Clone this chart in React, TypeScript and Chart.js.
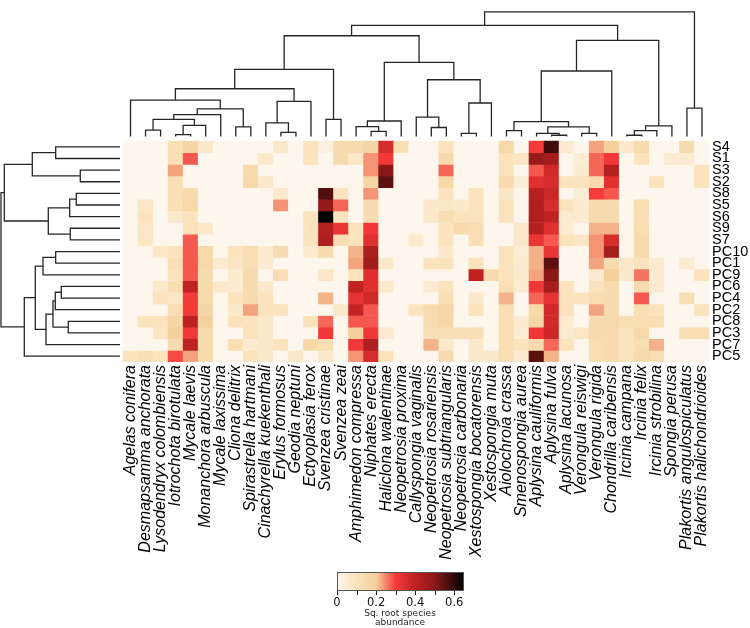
import { useEffect, useRef } from "react";
import { Chart, registerables } from "chart.js";

Chart.register(...registerables);

// ---------- data ----------
const species = [
  "Agelas conifera", "Desmapsamma anchorata", "Lysodendryx colombiensis", "Iotrochota birotulata",
  "Mycale laevis", "Monanchora arbuscula", "Mycale laxissima", "Cliona delitrix",
  "Spirastrella hartmani", "Cinachyrella kuekenthali", "Erylus formosus", "Geodia neptuni",
  "Ectyoplasia ferox", "Svenzea cristinae", "Svenzea zeai", "Amphimedon compressa",
  "Niphates erecta", "Haliclona walentinae", "Neopetrosia proxima", "Callyspongia vaginalis",
  "Neopetrosia rosariensis", "Neopetrosia subtriangularis", "Neopetrosia carbonaria",
  "Xestospongia bocatorensis", "Xestospongia muta", "Aiolochroia crassa", "Smenospongia aurea",
  "Aplysina cauliformis", "Aplysina fulva", "Aplysina lacunosa", "Verongula reiswigi",
  "Verongula rigida", "Chondrilla caribensis", "Ircinia campana", "Ircinia felix",
  "Ircinia strobilina", "Spongia perusa", "Plakortis angulospiculatus", "Plakortis halichondrioides",
];

const samples = ["S4", "S1", "S3", "S2", "S8", "S5", "S6", "S9", "S7", "PC10", "PC1", "PC9", "PC6", "PC4", "PC2", "PC8", "PC3", "PC7", "PC5"];

// square-root abundance, one array per sample (columns in species order)
const S4 = [0,0,0,.12,.17,.07,0,0,0,0,.07,0,.10,.03,.15,.15,.17,.36,.12,0,0,.10,0,0,0,.16,0,.30,.58,.06,0,.23,.20,.07,.14,0,0,.14,0];
const S1 = [0,0,0,.12,.28,0,0,0,0,.07,0,0,.10,0,.15,.08,.24,.31,0,0,0,.15,0,0,0,.10,.08,.47,.45,0,.05,.27,.31,0,.10,0,.06,.06,0];
const S3 = [0,0,0,.23,0,0,0,0,.15,0,0,0,0,0,0,0,.24,.50,0,0,0,.27,0,0,0,.10,0,.28,.37,0,.06,.27,.42,0,0,0,0,0,.10];
const S2 = [0,0,0,.12,0,0,0,0,.16,.07,0,0,0,0,0,0,.17,.55,0,0,0,.16,0,0,0,.15,.05,.34,.36,.10,.10,.15,.34,0,0,.10,0,0,.10];
const S8 = [0,0,0,.12,.15,0,0,0,0,0,.07,0,0,.56,.10,0,.24,0,0,0,0,.10,0,.10,0,.08,0,.42,.38,0,.05,.30,.28,0,0,0,0,0,0];
const S5 = [0,.08,0,.12,.16,0,0,0,0,0,.24,0,0,.48,.27,0,.14,0,0,0,.07,.08,.07,.10,0,.10,0,.43,.36,.10,.06,.14,.15,0,.13,0,0,0,0];
const S6 = [0,.10,0,.07,.10,0,0,0,0,0,0,0,.10,.65,.10,0,.14,0,0,0,.07,.13,.10,.10,0,.10,0,.43,.40,.06,.06,.15,.15,0,.12,0,0,0,0];
const S9 = [0,.08,0,0,.11,.07,0,0,0,0,0,0,.10,.42,.32,.10,.31,0,0,0,0,.10,.15,.13,0,0,.07,.42,.34,.06,0,.22,.22,0,.13,0,0,0,0];
const S7 = [0,.08,0,0,.28,0,0,0,0,0,0,0,.10,.43,.13,.10,.34,0,0,.07,0,.10,0,.13,0,0,.07,.32,.28,.10,.08,.24,.36,0,.14,0,0,0,0];
const PC10 = [0,0,.07,.10,.28,.16,0,.10,.13,.06,.14,0,.06,.15,0,.22,.44,0,0,0,0,.07,0,0,0,.10,.05,.22,.32,0,0,.24,.45,0,.14,0,0,0,0];
const PC1 = [0,0,0,.12,.28,.16,.06,.09,.13,.06,0,0,0,0,0,.23,.46,.07,0,0,.10,.10,0,.10,0,.10,.06,.22,.55,0,0,.23,.14,.07,.10,.06,0,.06,0];
const PC9 = [0,0,0,.10,.28,.15,0,.06,.15,0,.13,0,0,.08,0,.10,.34,0,0,0,0,0,0,.40,.15,.10,.06,.23,.50,0,0,.06,.20,.07,.26,.06,0,0,.10];
const PC6 = [0,0,.07,.13,.40,.15,.07,.06,.15,.07,0,0,0,0,0,.40,.34,.07,0,0,.06,.10,0,0,0,.12,.06,.31,.45,.10,0,.10,.15,0,.15,.06,0,0,0];
const PC4 = [0,0,.10,.08,.30,.15,0,.10,.15,.10,0,0,0,.22,0,.33,.37,0,0,0,0,.12,0,.07,0,.22,0,.27,.33,.10,.10,.13,.14,0,.28,0,0,.13,0];
const PC2 = [0,0,0,.13,.30,.17,0,.07,.23,.10,.10,0,0,0,.07,.39,.28,0,0,.10,.14,.17,0,.10,0,.13,0,.16,.37,.10,0,.23,.15,0,.13,.10,0,0,.10];
const PC8 = [0,.10,.10,.17,.40,.20,0,.10,.10,.07,0,0,.10,.27,0,.28,.28,0,0,0,.14,.17,0,0,0,.13,.06,.17,.37,.06,0,.14,.15,.12,.13,.13,0,0,0];
const PC3 = [0,0,.08,.20,.31,.15,0,0,.10,.07,0,0,0,.31,0,.20,.31,.06,0,0,.12,.12,.12,.12,0,.13,.05,.31,.38,.06,.08,.14,.14,.10,.16,0,0,.13,.13];
const PC7 = [0,0,0,.14,.40,.15,0,.13,.06,.07,.10,0,.16,.13,0,.31,.43,0,0,0,.22,.07,0,.07,0,.13,.10,.15,.27,.10,0,.13,.14,.10,.13,.22,0,0,0];
const PC5 = [.10,.12,.10,.29,.23,.15,0,0,.10,.07,0,.08,0,.07,0,.24,.36,.10,0,0,0,.14,0,.07,.07,.13,.06,.55,.22,0,0,.13,.14,.10,.15,.13,0,0,0];

const abundance = [S4, S1, S3, S2, S8, S5, S6, S9, S7, PC10, PC1, PC9, PC6, PC4, PC2, PC8, PC3, PC7, PC5];

// linkage: [childA, childB, height]; >=0 = leaf index, <0 = earlier merge -(k+1)
const speciesTree: [number, number, number][] = [
  [1, 2, 6.6], [3, 4, 2.0], [-2, 5, 11.6], [-1, -3, 17.6], [-4, 6, 22.6], [7, 8, 10],
  [-5, -6, 28.6], [0, -7, 37.6], [10, 11, 4.3], [9, -9, 14], [-10, 12, 36.3], [-8, -11, 49.3],
  [13, 14, 17.6], [-12, -13, 69.3], [16, 17, 5.3], [15, -15, 10.3], [-16, 18, 16], [20, 21, 9.3],
  [19, -18, 20], [22, 23, 3.3], [-20, 24, 34.6], [-19, -21, 58.6], [-17, -22, 76.6], [-14, -23, 104],
  [25, 26, 6], [28, 29, 1.3], [27, -26, 3.3], [30, 31, 3.3], [-27, -28, 10], [-25, -29, 15.3],
  [-30, 32, 67.6], [33, 34, 1.3], [-32, 35, 6], [-33, 36, 11], [-31, -34, 99.3], [-24, -35, 114.6],
  [37, 38, 29.3], [-36, -37, 128.6],
];

const sampleTree: [number, number, number][] = [
  [0, 1, 64.3], [2, 3, 39.7], [-1, -2, 87.7], [4, 5, 43.7], [-4, 6, 50.3], [7, 8, 49.7],
  [-5, -6, 71.7], [-3, -7, 115.7], [9, 10, 64.3], [-9, 11, 77], [12, 13, 58.7], [-11, 14, 64.7],
  [15, 16, 51.7], [-12, -13, 67], [-14, 17, 74], [-10, -15, 84.7], [-16, 18, 95.7], [-8, -17, 119],
];

const colorStops: [number, string][] = [
  [0, "#fdf6ec"], [0.1, "#fbe3bd"], [0.2, "#f3d09c"], [0.3, "#f53a3a"],
  [0.4, "#c02222"], [0.5, "#8a1818"], [0.65, "#000000"],
];
const colorTickLabels = [0, 0.2, 0.4, 0.6];
const colorTickMarks = [0, 0.1, 0.2, 0.3, 0.4, 0.5, 0.6];
const colorTitle = ["Sq. root species", "abundance"];

// ---------- helpers ----------
function hexToRgb(h: string) {
  const n = parseInt(h.slice(1), 16);
  return [(n >> 16) & 255, (n >> 8) & 255, n & 255];
}
function colorFor(v: number) {
  const last = colorStops[colorStops.length - 1];
  if (v >= last[0]) return last[1];
  for (let i = 0; i < colorStops.length - 1; i++) {
    const [a, ca] = colorStops[i];
    const [b, cb] = colorStops[i + 1];
    if (v >= a && v <= b) {
      const t = (v - a) / (b - a);
      const A = hexToRgb(ca), B = hexToRgb(cb);
      const c = A.map((x, k) => Math.round(x + (B[k] - x) * t));
      return `rgb(${c[0]},${c[1]},${c[2]})`;
    }
  }
  return colorStops[0][1];
}

type Pt = { x: number; y: number | null };
function dendroPoints(tree: [number, number, number][], place: (p: number, h: number) => Pt): Pt[] {
  const pos: number[] = [];
  const hgt: number[] = [];
  const P = (id: number) => (id >= 0 ? id : pos[-id - 1]);
  const H = (id: number) => (id >= 0 ? 0 : hgt[-id - 1]);
  const pts: Pt[] = [];
  tree.forEach(([a, b, h], k) => {
    const pa = P(a), pb = P(b);
    pts.push(place(pa, H(a)), place(pa, h), place(pb, h), place(pb, H(b)), { x: 0, y: null });
    pos[k] = (pa + pb) / 2;
    hgt[k] = h;
  });
  return pts;
}

// ---------- layout constants (scale units) ----------
const X_MIN = -0.5 - 123 / 15.04;
const X_MAX = species.length - 0.5;
const Y_MIN = -134 / 12;
const Y_MAX = samples.length;
const TOP_GAP = 0.39, TOP_K = 1 / 12;
const LEFT_GAP = 0.2, LEFT_K = 1 / 15.04;

const colorbarPlugin = {
  id: "colorbar",
  afterDraw(chart: any) {
    const ctx = chart.ctx as CanvasRenderingContext2D;
    const x0 = 337, x1 = 464, y0 = 572, y1 = 591;
    const vmax = colorStops[colorStops.length - 1][0];
    const px = (v: number) => x0 + (v / vmax) * (x1 - x0);
    ctx.save();
    const g = ctx.createLinearGradient(x0, 0, x1, 0);
    colorStops.forEach(([v, c]) => g.addColorStop(v / vmax, c));
    ctx.fillStyle = g;
    ctx.fillRect(x0, y0, x1 - x0, y1 - y0);
    ctx.strokeStyle = "#555";
    ctx.lineWidth = 1;
    ctx.strokeRect(x0 + 0.5, y0 + 0.5, x1 - x0 - 1, y1 - y0 - 1);
    ctx.strokeStyle = "#222";
    colorTickMarks.forEach((v) => {
      const x = Math.round(px(v)) + 0.5;
      ctx.beginPath();
      ctx.moveTo(x, y1);
      ctx.lineTo(x, y1 + 4);
      ctx.stroke();
    });
    ctx.fillStyle = "#111";
    ctx.textAlign = "center";
    ctx.textBaseline = "middle";
    ctx.font = '11.5px "DejaVu Sans", sans-serif';
    colorTickLabels.forEach((v) => ctx.fillText(String(v), px(v), 603));
    ctx.font = '9px "DejaVu Sans", sans-serif';
    ctx.fillStyle = "#222";
    ctx.fillText(colorTitle[0], 400, 613.5);
    ctx.fillText(colorTitle[1], 400, 623);
    ctx.restore();
  },
};

export default function App() {
  const ref = useRef<HTMLCanvasElement>(null);
  useEffect(() => {
    const cellSets = abundance.map((row, r) => ({
      type: "bar" as const,
      data: row.map((_, c) => ({ x: c, y: [r, r + 1] })),
      backgroundColor: row.map((v) => colorFor(v)),
      borderWidth: 0,
      grouped: false,
      barPercentage: 1,
      categoryPercentage: 1,
      order: 2,
    }));
    const lineStyle = {
      type: "line" as const,
      borderColor: "#262626",
      borderWidth: 1.3,
      pointRadius: 0,
      tension: 0,
      fill: false,
      spanGaps: false,
      clip: false as const,
      order: 1,
    };
    const topTree = {
      ...lineStyle,
      data: dendroPoints(speciesTree, (p, h) => ({ x: p, y: -TOP_GAP - h * TOP_K })),
    };
    const leftTree = {
      ...lineStyle,
      data: dendroPoints(sampleTree, (p, h) => ({ x: -0.5 - LEFT_GAP - h * LEFT_K, y: p + 0.5 })),
    };
    const chart = new Chart(ref.current!, {
      type: "bar",
      data: { datasets: [...cellSets, topTree, leftTree] as any },
      options: {
        responsive: false,
        devicePixelRatio: 1,
        animation: false,
        events: [],
        layout: { padding: 0 },
        plugins: { legend: { display: false }, tooltip: { enabled: false } },
        scales: {
          x: {
            type: "linear",
            min: X_MIN,
            max: X_MAX,
            bounds: "data",
            offset: false,
            position: "bottom",
            grid: { display: false, drawTicks: false },
            border: { display: false },
            afterBuildTicks: (s: any) => {
              s.ticks = species.map((_, i) => ({ value: i }));
            },
            afterFit: (s: any) => {
              s.height = 266;
            },
            ticks: {
              autoSkip: false,
              minRotation: 90,
              maxRotation: 90,
              padding: 3,
              color: "#000",
              font: { family: '"Liberation Sans", Arial, sans-serif', size: 16, style: "italic" },
              callback: (_v: any, i: number) => species[i],
            },
          },
          y: {
            type: "linear",
            reverse: true,
            min: Y_MIN,
            max: Y_MAX,
            bounds: "data",
            offset: false,
            position: "right",
            grid: { display: false, drawTicks: false },
            border: { display: false },
            afterBuildTicks: (s: any) => {
              s.ticks = samples.map((_, r) => ({ value: r + 0.5 }));
            },
            afterFit: (s: any) => {
              s.width = 40.5;
            },
            ticks: {
              autoSkip: false,
              padding: 2.5,
              color: "#000",
              font: { family: '"Liberation Sans", Arial, sans-serif', size: 14.5 },
              callback: (_v: any, i: number) => samples[i],
            },
          },
        },
      } as any,
      plugins: [colorbarPlugin],
    });
    return () => chart.destroy();
  }, []);
  return (
    <div style={{ position: "absolute", left: 0, top: 0, width: 750, height: 628, background: "#fff" }}>
      <canvas ref={ref} width={750} height={628} style={{ display: "block" }} />
    </div>
  );
}
